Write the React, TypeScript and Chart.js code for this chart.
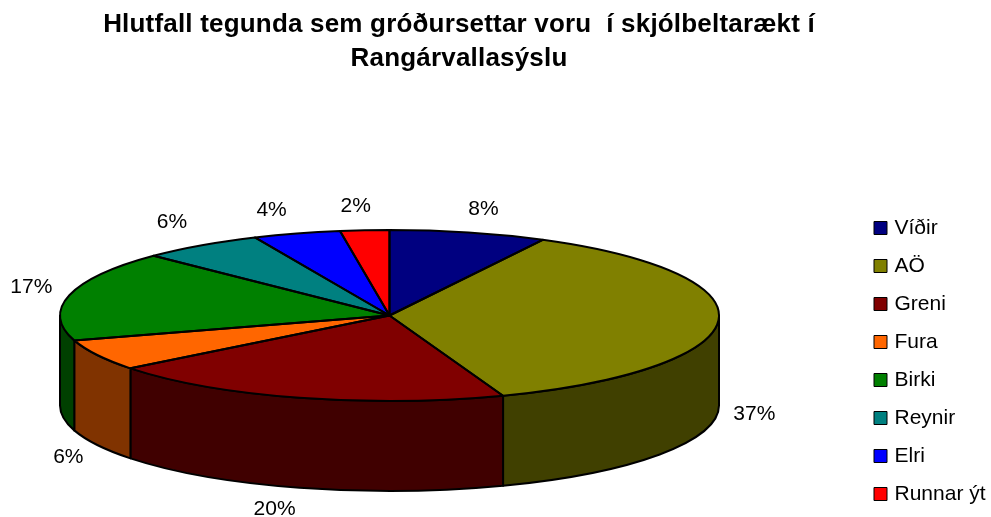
import React, { useEffect, useRef } from "react";
import { Chart, registerables } from "chart.js";

Chart.register(...registerables);

const categories = ["Víðir", "AÖ", "Greni", "Fura", "Birki", "Reynir", "Elri", "Runnar ýt"];
const shares = [7.7, 36.7, 20.0, 5.9, 17.0, 6.0, 4.3, 2.4];
const topColours = ["#000080", "#808000", "#800000", "#FF6600", "#008000", "#008080", "#0000FF", "#FF0000"];
const wallColours = ["#000040", "#404000", "#400000", "#803300", "#004000", "#004040", "#000080", "#800000"];
const titleLines = ["Hlutfall tegunda sem gróðursettar voru  í skjólbeltarækt í", "Rangárvallasýslu"];

// Label nudges from the rim point of each slice (layout, not data).
const labelNudgeX = [15, 36, -25, -29, -38, -29, -25, -9];
const labelNudgeY = [-23, 3, 21, 12, -8, -23, -23, -24];

const PIE = { cx: 389.5, cy: 315.5, rx: 329.5, ry: 85.5, depth: 90 };
const FONT = "'Liberation Sans', Arial, sans-serif";

function sliceAngles(arc: any) {
  return { start: arc.startAngle as number, end: arc.endAngle as number };
}

const pie3d = {
  id: "pie3d",
  afterLayout(chart: any) {
    const title = chart.titleBlock;
    if (title) {
      title.left = 0;
      title.right = 918;
      title.top = 0;
      if (!title.__spaced) {
        title.__spaced = true;
        const drawTitle = title.draw;
        title.draw = function (...args: any[]) {
          (chart.ctx as any).letterSpacing = "0.19px";
          drawTitle.apply(this, args);
          (chart.ctx as any).letterSpacing = "0px";
        };
      }
    }
    if (chart.legend) {
      chart.legend.left = 860;
      chart.legend.top = 200.5;
      chart.legend.bottom = 530;
    }
  },
  beforeDatasetsDraw(chart: any) {
    const ctx = chart.ctx as CanvasRenderingContext2D;
    const arcs = chart.getDatasetMeta(0).data;
    ctx.save();
    ctx.lineWidth = 2;
    ctx.strokeStyle = "#000";
    ctx.lineJoin = "round";
    arcs.forEach((arc: any, i: number) => {
      const { start, end } = sliceAngles(arc);
      // Only the part of a slice between canvas angles 0 and PI faces the viewer.
      const a = Math.max(start, 0);
      const b = Math.min(end, Math.PI);
      if (b <= a) return;
      ctx.beginPath();
      ctx.ellipse(PIE.cx, PIE.cy, PIE.rx, PIE.ry, 0, a, b);
      ctx.ellipse(PIE.cx, PIE.cy + PIE.depth, PIE.rx, PIE.ry, 0, b, a, true);
      ctx.closePath();
      ctx.fillStyle = wallColours[i];
      ctx.fill();
      ctx.stroke();
    });
    ctx.restore();

    // Tilt the library's round pie into the ellipse of the top face.
    const first = arcs[0];
    ctx.save();
    ctx.translate(PIE.cx, PIE.cy);
    ctx.scale(PIE.rx / first.outerRadius, PIE.ry / first.outerRadius);
    ctx.translate(-first.x, -first.y);
  },
  afterDatasetsDraw(chart: any) {
    const ctx = chart.ctx as CanvasRenderingContext2D;
    ctx.restore();
    const arcs = chart.getDatasetMeta(0).data;
    ctx.save();
    ctx.lineWidth = 2;
    ctx.strokeStyle = "#000";
    ctx.lineJoin = "round";
    arcs.forEach((arc: any) => {
      const { start, end } = sliceAngles(arc);
      ctx.beginPath();
      ctx.moveTo(PIE.cx, PIE.cy);
      ctx.ellipse(PIE.cx, PIE.cy, PIE.rx, PIE.ry, 0, start, end);
      ctx.closePath();
      ctx.stroke();
    });
    ctx.fillStyle = "#000";
    ctx.font = `21px ${FONT}`;
    ctx.textAlign = "center";
    ctx.textBaseline = "middle";
    const total = shares.reduce((s, v) => s + v, 0);
    arcs.forEach((arc: any, i: number) => {
      const { start, end } = sliceAngles(arc);
      const mid = (start + end) / 2;
      const px = PIE.cx + PIE.rx * Math.cos(mid);
      const py = PIE.cy + PIE.ry * Math.sin(mid);
      const wall = Math.sin(mid) > 0 ? PIE.depth : 0;
      const text = `${Math.round((shares[i] / total) * 100)}%`;
      ctx.fillText(text, px + labelNudgeX[i], py + wall + labelNudgeY[i]);
    });
    ctx.restore();
  },
};

export default function App() {
  const ref = useRef<HTMLCanvasElement>(null);
  useEffect(() => {
    const defaultLabels = (Chart as any).overrides.pie.plugins.legend.labels.generateLabels;
    const chart = new Chart(ref.current as HTMLCanvasElement, {
      type: "pie",
      data: {
        labels: categories,
        datasets: [
          {
            data: shares,
            backgroundColor: topColours,
            borderWidth: 0,
            clip: false,
          } as any,
        ],
      },
      plugins: [pie3d],
      options: {
        responsive: false,
        animation: false,
        layout: { padding: 0 },
        plugins: {
          tooltip: { enabled: false },
          title: {
            display: true,
            text: titleLines,
            color: "#000",
            font: { family: FONT, size: 26, weight: "bold", lineHeight: 34 / 26 },
            padding: { top: 8, bottom: 10 },
          },
          legend: {
            display: true,
            position: "right",
            align: "start",
            labels: {
              color: "#000",
              font: { family: FONT, size: 21, lineHeight: 1 },
              boxWidth: 7,
              boxHeight: 13,
              padding: 17,
              usePointStyle: true,
              pointStyle: "rect",
              generateLabels: (c: any) =>
                defaultLabels(c).map((item: any) => ({
                  ...item,
                  strokeStyle: "#000",
                  lineWidth: 1,
                  pointStyle: "rect",
                })),
            },
          },
        },
      } as any,
    });
    return () => chart.destroy();
  }, []);
  return (
    <div style={{ position: "absolute", left: 0, top: 0, width: 991, height: 517, background: "#fff" }}>
      <canvas ref={ref} width={991} height={517} style={{ display: "block" }} />
    </div>
  );
}
